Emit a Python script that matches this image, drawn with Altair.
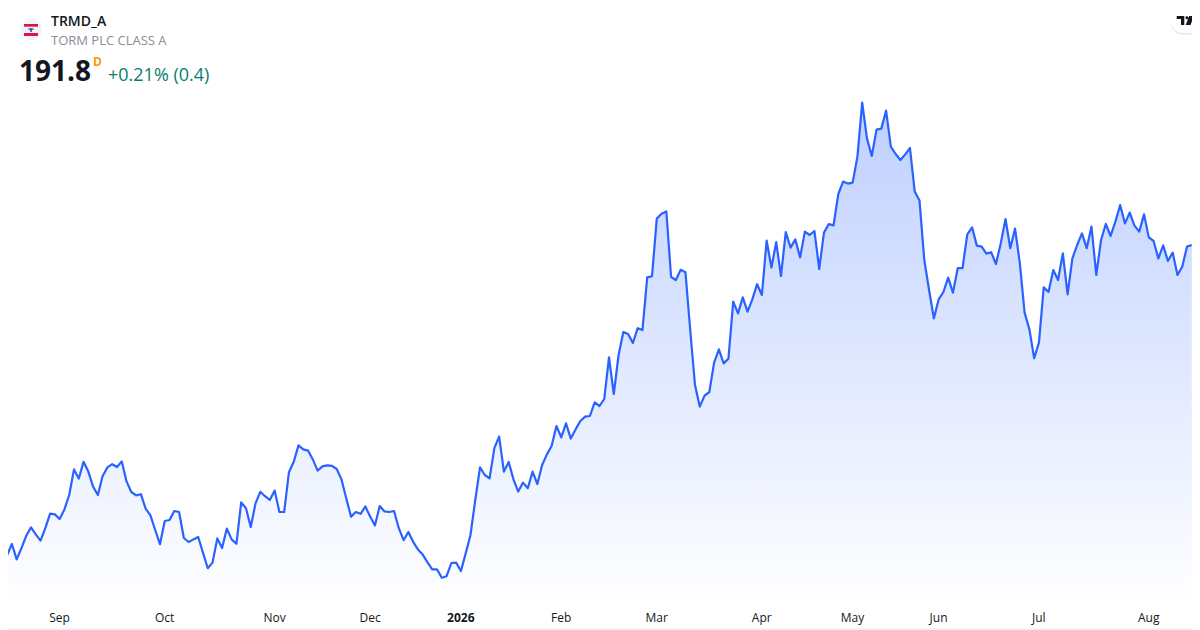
import json
import altair as alt
import pandas as pd

prices = [
119.3,114.3,117.05,113.2,116.0,119.1,121.2,119.45,117.9,121.0,
124.65,124.45,123.3,125.7,129.3,135.7,133.4,137.6,135.15,131.4,
129.3,134.05,136.2,137.0,136.3,137.7,132.7,130.05,129.2,129.5,
125.9,124.2,120.55,117.0,122.8,123.05,125.3,125.05,118.55,117.55,
118.2,118.8,114.9,111.0,112.4,118.45,116.05,120.9,118.2,117.1,
127.45,126.0,121.3,127.2,130.1,129.0,128.05,130.4,125.1,125.05,
135.0,137.6,141.7,140.7,140.4,138.2,135.4,136.45,136.7,136.6,
135.8,133.2,128.45,123.9,125.05,124.6,126.45,123.9,121.7,126.55,
125.2,125.05,125.3,121.0,118.0,120.05,117.6,115.7,114.4,112.45,
110.7,110.7,108.6,109.0,112.3,112.4,110.3,114.7,119.3,128.05,
136.2,134.3,133.45,141.0,143.9,135.15,137.55,133.2,130.15,132.4,
131.0,135.15,132.05,136.8,139.45,141.6,146.55,143.7,147.2,143.4,
145.7,147.8,148.9,149.05,152.45,151.55,153.3,163.7,154.55,164.3,
170.05,169.55,167.3,171.0,170.55,183.7,184.0,198.4,199.6,200.2,
183.8,183.05,185.6,185.0,170.55,156.8,151.4,154.15,155.05,162.4,
165.7,162.2,163.4,177.65,174.7,178.7,175.15,178.2,182.0,179.3,
192.9,186.15,192.5,184.05,195.0,191.15,193.2,188.7,195.15,194.3,
195.3,185.8,194.9,197.05,196.7,204.55,207.65,207.15,207.4,213.9,
227.4,218.45,214.05,220.65,220.9,225.4,216.4,214.55,213.05,214.45,
216.05,205.15,202.9,188.05,180.55,173.45,178.2,180.05,183.65,179.9,
186.0,186.0,194.45,196.2,191.65,191.4,189.65,190.0,187.05,192.2,
198.3,191.0,195.9,187.2,174.9,170.7,163.5,167.4,181.2,180.05,
185.55,183.05,189.7,179.45,188.45,191.8,194.7,191.0,196.4,184.3,
193.05,197.05,194.05,197.65,201.8,197.2,199.9,196.65,195.15,199.45,
193.7,192.8,188.45,191.7,187.8,189.9,184.3,186.4,191.4,191.8,
]
tick_index = [12, 34, 57, 77, 96, 117, 137, 159, 178, 196, 217, 240]
tick_labels = ["Sep", "Oct", "Nov", "Dec", "2026", "Feb", "Mar", "Apr", "May", "Jun", "Jul", "Aug"]

FONT = "Open Sans"
W, H = 1184, 597
DOM_X = [1.187, 249.04]
DOM_Y = [101.8, 251.05]
BLUE = "#2962ff"

df = pd.DataFrame({"i": list(range(len(prices))), "price": prices, "base": DOM_Y[0]})
xs = alt.Scale(domain=DOM_X, nice=False, zero=False)
ys = alt.Scale(domain=DOM_Y, nice=False, zero=False)

label_map = json.dumps({str(i): t for i, t in zip(tick_index, tick_labels)})
x_enc = alt.X("i:Q", scale=xs, title=None, axis=alt.Axis(
    values=tick_index, labelExpr=f"{label_map}[datum.value]", grid=False, domain=False,
    ticks=False, labelFont=FONT, labelFontSize=12, labelColor="#131722", labelPadding=7,
    labelOverlap=False, labelFlush=False, labelOffset=-0.6,
    labelFontWeight={"condition": {"test": "datum.value == 96", "value": 700}, "value": 400}))

grad = alt.LinearGradient(gradient="linear", x1=0, x2=0, y1=0, y2=1, stops=[
    alt.GradientStop(color="rgba(41,98,255,0.30)", offset=0),
    alt.GradientStop(color="rgba(41,98,255,0)", offset=1)])

area = alt.Chart(df).mark_area(color=grad, line=False).encode(
    x=x_enc, y=alt.Y("price:Q", scale=ys, axis=None), y2="base:Q")
line = alt.Chart(df).mark_line(color=BLUE, strokeWidth=2.2, strokeJoin="round").encode(
    x=alt.X("i:Q", scale=xs), y=alt.Y("price:Q", scale=ys))

def one():
    return alt.Chart(pd.DataFrame({"k": [0]}))

def text(s, x, y, size, color, weight=400):
    return one().mark_text(font=FONT, fontSize=size, color=color, fontWeight=weight,
                           align="left", baseline="alphabetic").encode(
        x=alt.value(x), y=alt.value(y), text=alt.value(s))

def box(x, x2, y, y2, color, **kw):
    return one().mark_rect(color=color, **kw).encode(
        x=alt.value(x), x2=alt.value(x2), y=alt.value(y), y2=alt.value(y2))

# header (offsets are page position minus the 8px page margin)
layers = [
    area, line,
    one().mark_point(shape="circle", filled=True, color="#f0f3fa", opacity=1, size=452).encode(
        x=alt.value(23), y=alt.value(22)),
    box(16, 30, 16, 18.7, "#e0143c"),
    box(16, 30, 25, 28, "#e0143c"),
    box(20.5, 25.5, 20.5, 21.7, "#1c3f7c"),
    box(22.3, 23.7, 20.5, 24, "#1c3f7c"),
    text("TRMD_A", 43, 18, 14, "#131722", 600),
    text("TORM PLC CLASS A", 43, 37, 13, "#8a8d96"),
    text("191.8", 11, 73, 28, "#131722", 700),
    text("D", 85, 58, 12, "#ff9800", 700),
    text("+0.21% (0.4)", 100, 73, 18, "#06806c"),
    box(1163, 1200, 3, 27, "#000000", cornerRadius=12, opacity=0.05),
    box(1163, 1200, 2, 26, "#000000", cornerRadius=12, opacity=0.05),
    box(1163, 1200, 1, 25, "#ffffff", cornerRadius=12),
    one().mark_point(
        shape="M-0.83 -0.45H-0.07V0.45H-0.4V-0.15H-0.83Z M0.04 -0.28A0.15 0.15 0 1 0 0.34 -0.28A0.15 0.15 0 1 0 0.04 -0.28Z M0.42 -0.45H0.9L0.55 0.45H0.07Z",
        filled=True, color="#131722", opacity=1, size=400).encode(x=alt.value(1177), y=alt.value(12.5)),
    one().mark_rule(color="#e8e8e8", strokeWidth=1).encode(
        x=alt.value(0), x2=alt.value(1184), y=alt.value(621)),
]

chart = alt.layer(*layers).properties(
    width=W, height=H, background="#ffffff",
    padding={"left": 0, "top": 0, "right": 0, "bottom": 25},
    autosize=alt.AutoSizeParams(type="none"),
).configure_view(stroke=None)

chart.save("out.html", embed_options={"renderer": "svg", "actions": False})
